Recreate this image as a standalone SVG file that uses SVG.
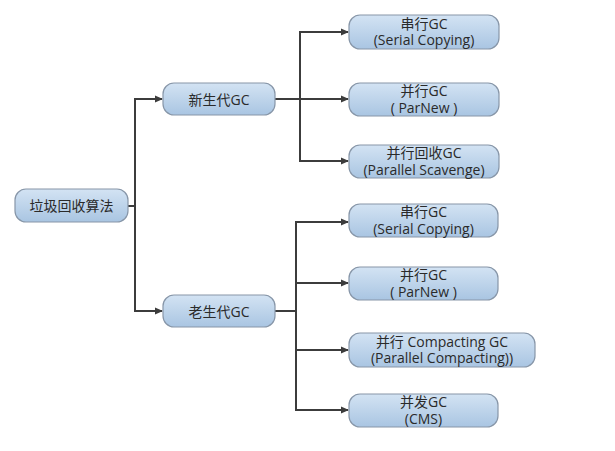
<svg xmlns="http://www.w3.org/2000/svg" width="615" height="451" viewBox="0 0 615 451">
<style>
.box{fill:url(#g);stroke:#8796a8;stroke-width:1.2}
.t{font-family:"Open Sans","Noto Sans CJK SC",sans-serif;font-size:14px;fill:#2a2a2a;text-anchor:middle}
.c{fill:none;stroke:#3c3c3c;stroke-width:2}
</style>
<defs>
<linearGradient id="g" x1="0" y1="0" x2="0" y2="1">
<stop offset="0" stop-color="#d3e3f3"/>
<stop offset="1" stop-color="#a9c5e2"/>
</linearGradient>
<marker id="a" markerWidth="8" markerHeight="8" refX="7" refY="4" orient="auto" markerUnits="userSpaceOnUse">
<path d="M0,0.5 L8,4 L0,7.5 Z" fill="#3c3c3c"/>
</marker>
</defs>
<rect width="615" height="451" fill="#ffffff"/>
<g id="connectors">
<path class="c" d="M128,206 H135"/>
<path class="c" d="M135,206 V99 H162" marker-end="url(#a)"/>
<path class="c" d="M135,206 V311 H162" marker-end="url(#a)"/>
<path class="c" d="M275,99 H300"/>
<path class="c" d="M300,99 V32 H348" marker-end="url(#a)"/>
<path class="c" d="M300,99 H348" marker-end="url(#a)"/>
<path class="c" d="M300,99 V161 H348" marker-end="url(#a)"/>
<path class="c" d="M275,311 H296"/>
<path class="c" d="M296,311 V222 H348" marker-end="url(#a)"/>
<path class="c" d="M296,311 V283 H348" marker-end="url(#a)"/>
<path class="c" d="M296,311 V350 H348" marker-end="url(#a)"/>
<path class="c" d="M296,311 V410 H348" marker-end="url(#a)"/>
</g>
<g id="root"><rect class="box" x="15" y="189" width="113" height="33" rx="11"/><text class="t" x="71.5" y="211">垃圾回收算法</text></g>
<g id="young"><rect class="box" x="163" y="83" width="112" height="32" rx="11"/><text class="t" x="219" y="104.5">新生代GC</text></g>
<g id="old"><rect class="box" x="163" y="295" width="112" height="32" rx="11"/><text class="t" x="219" y="316.5">老生代GC</text></g>
<g id="y-serial"><rect class="box" x="349" y="15" width="150" height="34" rx="11"/><text class="t" x="424" y="28.5">串行GC</text><text class="t" x="424" y="45">(Serial Copying)</text></g>
<g id="y-parnew"><rect class="box" x="349" y="83" width="150" height="33" rx="11"/><text class="t" x="424" y="96">并行GC</text><text class="t" x="424" y="112.5">( ParNew )</text></g>
<g id="y-scavenge"><rect class="box" x="349" y="145" width="150" height="33" rx="11"/><text class="t" x="424" y="158">并行回收GC</text><text class="t" x="424" y="174.5">(Parallel Scavenge)</text></g>
<g id="o-serial"><rect class="box" x="349" y="204" width="149" height="33" rx="11"/><text class="t" x="423.5" y="217">串行GC</text><text class="t" x="423.5" y="233.5">(Serial Copying)</text></g>
<g id="o-parnew"><rect class="box" x="349" y="267" width="149" height="33" rx="11"/><text class="t" x="423.5" y="280">并行GC</text><text class="t" x="423.5" y="296.5">( ParNew )</text></g>
<g id="o-compact"><rect class="box" x="349" y="333" width="186" height="34" rx="11"/><text class="t" x="442" y="346.5">并行 Compacting GC</text><text class="t" x="442" y="363">(Parallel Compacting))</text></g>
<g id="o-cms"><rect class="box" x="349" y="394" width="149" height="33" rx="11"/><text class="t" x="423.5" y="407">并发GC</text><text class="t" x="423.5" y="423.5">(CMS)</text></g>
</svg>
